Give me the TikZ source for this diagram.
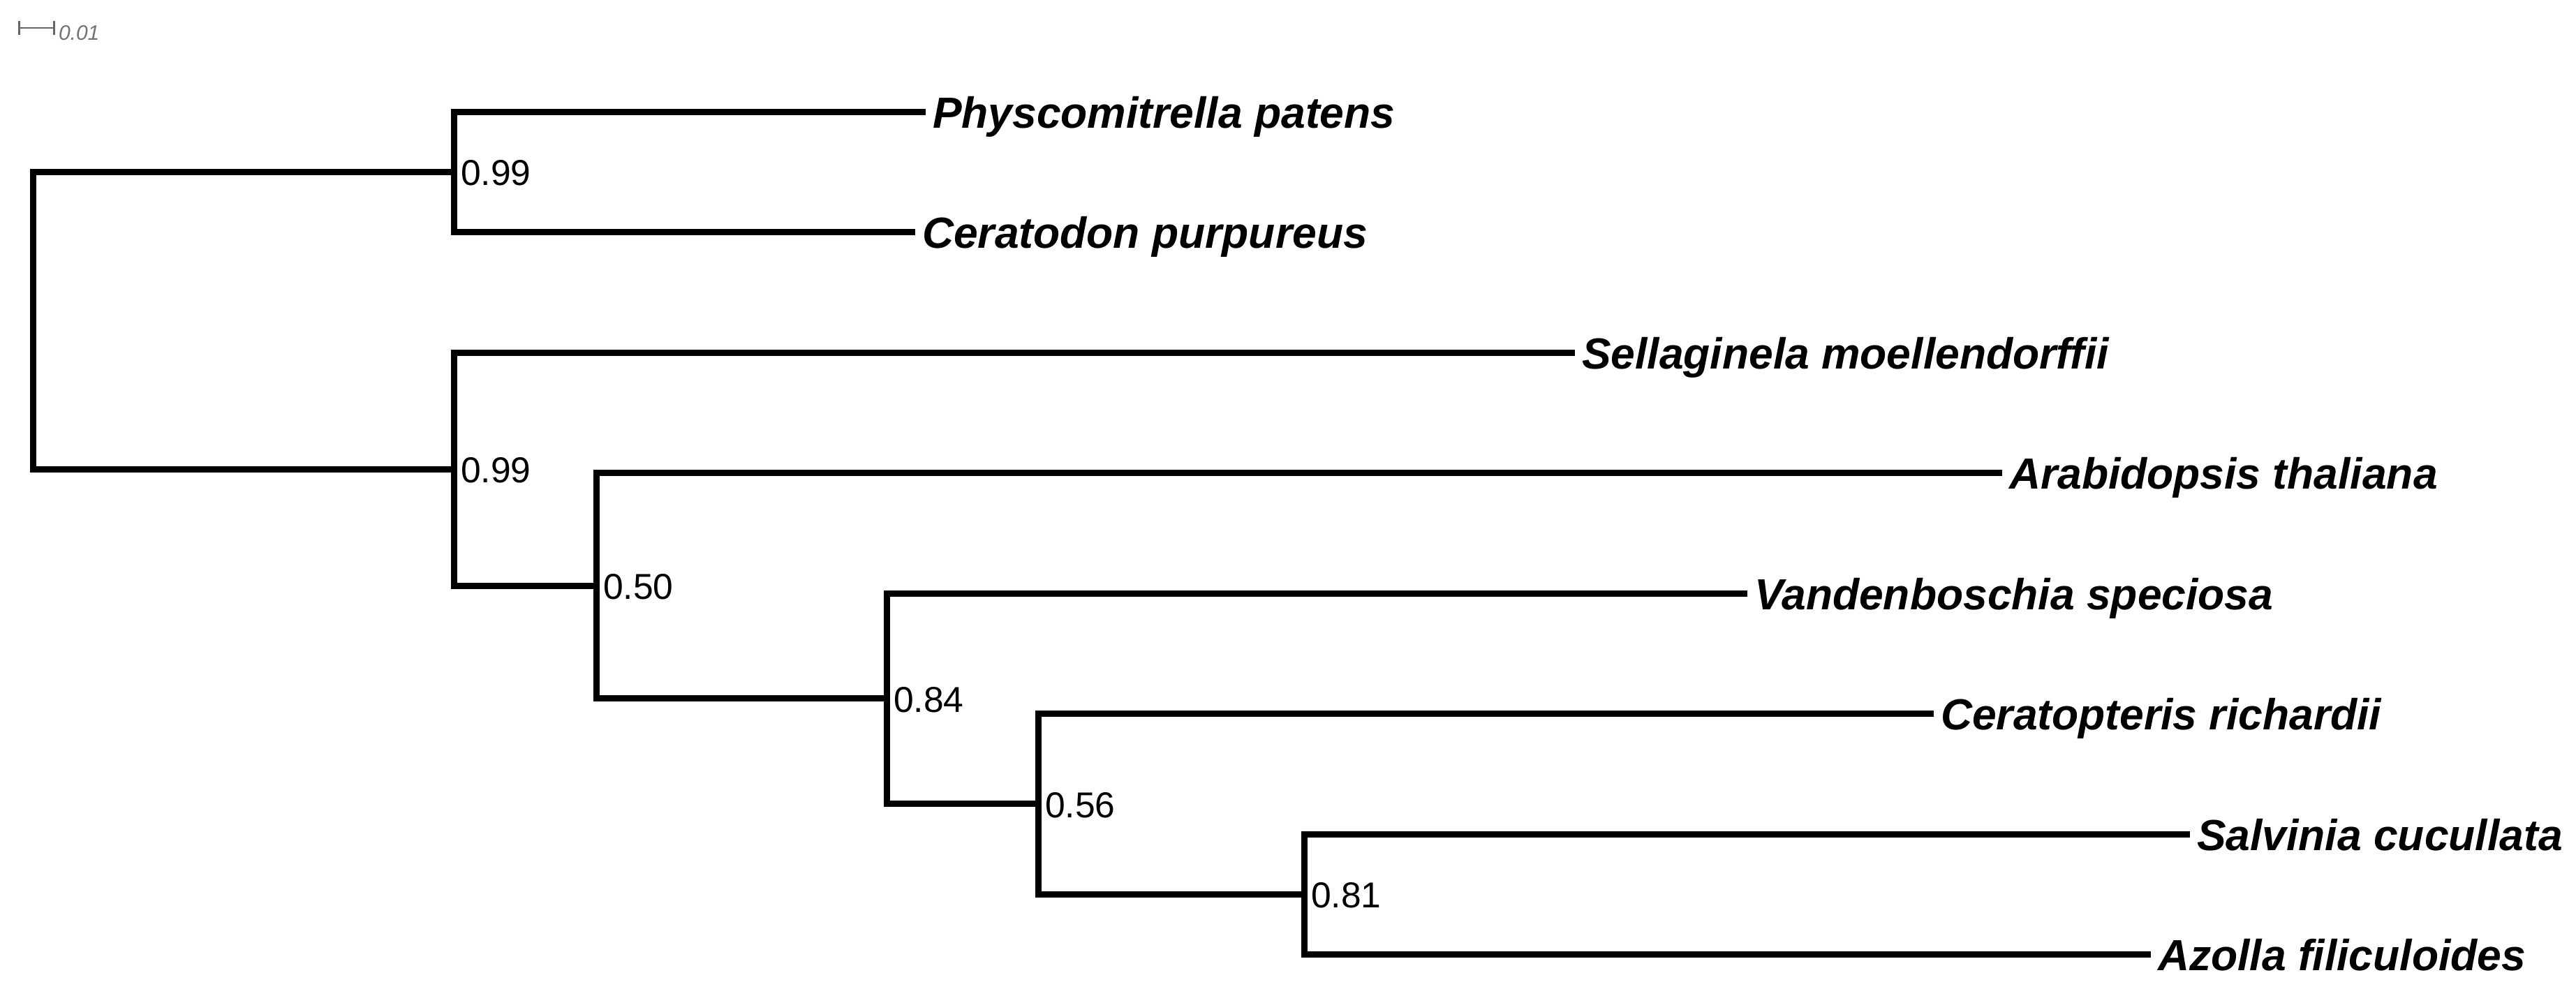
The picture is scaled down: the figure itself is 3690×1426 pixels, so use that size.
\documentclass[tikz,border=0pt]{standalone}
\usepackage{fontspec}
\setmainfont{Liberation Sans}
\begin{document}
\begin{tikzpicture}[x=0.25pt,y=-0.25pt,
  branch/.style={line width=2.25pt, line join=miter, line cap=butt, black},
  taxon/.style={anchor=base west, inner sep=0pt, outer sep=0pt, font=\fontsize{15.6}{18}\selectfont\bfseries\itshape},
  support/.style={anchor=base west, inner sep=0pt, outer sep=0pt, font=\fontsize{12.9}{15}\selectfont},
  scalebar/.style={line width=0.6pt, color=black!60},
  scaletext/.style={anchor=base west, inner sep=0pt, outer sep=0pt, text=black!55, font=\fontsize{7.5}{9}\selectfont\itshape}]
\fill[white] (0,0) rectangle (3690,1426);
\useasboundingbox (0,0) rectangle (3690,1426);

% scale bar
\coordinate (sbL) at (27.5,40);
\coordinate (sbR) at (77.5,40);
\draw[scalebar] (sbL) -- (sbR);
\draw[scalebar] ([yshift=2.5pt]sbL) -- ([yshift=-2.5pt]sbL);
\draw[scalebar] ([yshift=2.5pt]sbR) -- ([yshift=-2.5pt]sbR);
\node[scaletext] (sbtext) at (84,57) {0.01};

% internal nodes
\coordinate (root) at (47,459.2);
\coordinate (nA) at (650,246.25);
\coordinate (nB) at (650,672.1);
\coordinate (nC) at (854,839.2);
\coordinate (nD) at (1270,1000.9);
\coordinate (nE) at (1487,1151.9);
\coordinate (nF) at (1868,1281.25);

% leaf tips
\coordinate (t1) at (1326,160);
\coordinate (t2) at (1311,332.5);
\coordinate (t3) at (2256,505);
\coordinate (t4) at (2868,677.5);
\coordinate (t5) at (2503,850);
\coordinate (t6) at (2770,1022.5);
\coordinate (t7) at (3137,1195);
\coordinate (t8) at (3081,1367.5);

% branches
\draw[branch] (nA) -- (root |- nA) -- (root |- nB) -- (nB);
\draw[branch] (t1) -- (nA |- t1) -- (nA |- t2) -- (t2);
\draw[branch] (t3) -- (nB |- t3) -- (nB |- nC) -- (nC);
\draw[branch] (t4) -- (nC |- t4) -- (nC |- nD) -- (nD);
\draw[branch] (t5) -- (nD |- t5) -- (nD |- nE) -- (nE);
\draw[branch] (t6) -- (nE |- t6) -- (nE |- nF) -- (nF);
\draw[branch] (t7) -- (nF |- t7) -- (nF |- t8) -- (t8);

% taxon labels
\node[taxon] (L1) at ([xshift=2.5pt,yshift=-5.8pt]t1) {Physcomitrella patens};
\node[taxon] (L2) at ([xshift=2.5pt,yshift=-5.8pt]t2) {Ceratodon purpureus};
\node[taxon] (L3) at ([xshift=2.5pt,yshift=-5.8pt]t3) {Sellaginela moellendorffii};
\node[taxon] (L4) at ([xshift=2.5pt,yshift=-5.8pt]t4) {Arabidopsis thaliana};
\node[taxon] (L5) at ([xshift=2.5pt,yshift=-5.8pt]t5) {Vandenboschia speciosa};
\node[taxon] (L6) at ([xshift=2.5pt,yshift=-5.8pt]t6) {Ceratopteris richardii};
\node[taxon] (L7) at ([xshift=2.5pt,yshift=-5.8pt]t7) {Salvinia cucullata};
\node[taxon] (L8) at ([xshift=2.5pt,yshift=-5.8pt]t8) {Azolla filiculoides};

% support values
\node[support] (sA) at ([xshift=2.5pt,yshift=-4.9pt]nA) {0.99};
\node[support] (sB) at ([xshift=2.5pt,yshift=-4.9pt]nB) {0.99};
\node[support] (sC) at ([xshift=2.5pt,yshift=-4.9pt]nC) {0.50};
\node[support] (sD) at ([xshift=2.5pt,yshift=-4.9pt]nD) {0.84};
\node[support] (sE) at ([xshift=2.5pt,yshift=-4.9pt]nE) {0.56};
\node[support] (sF) at ([xshift=2.5pt,yshift=-4.9pt]nF) {0.81};
\end{tikzpicture}
\end{document}
